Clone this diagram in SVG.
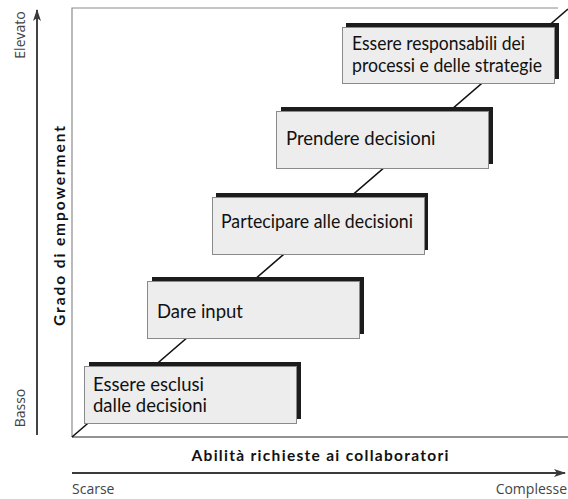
<svg xmlns="http://www.w3.org/2000/svg" width="568" height="499" viewBox="0 0 568 499">
  <defs>
    <style>
      .frame { fill: none; stroke: #8c8c8c; stroke-width: 1.2; }
      .base { fill: none; stroke: #6e6e6e; stroke-width: 1.4; }
      .diag { fill: none; stroke: #111; stroke-width: 1.6; }
      .axis { fill: none; stroke: #3a3a3a; stroke-width: 1.9; }
      .shadow { fill: #1c1c1c; }
      .box { fill: #ededed; stroke: #8a8a8a; stroke-width: 1; }
      .lbl { font-family: Lato, "Open Sans", sans-serif; font-size: 18.5px; fill: #111; }
      .title { font-family: Lato, "Open Sans", sans-serif; font-size: 15.5px; font-weight: bold; fill: #111; }
      .tick { font-family: "Open Sans", Lato, sans-serif; font-size: 14px; fill: #444; }
    </style>
    <marker id="arrow" viewBox="0 0 12 8" refX="11" refY="4" markerWidth="12" markerHeight="8" markerUnits="userSpaceOnUse" orient="auto">
      <path d="M0,0 L12,4 L0,8 L3,4 Z" fill="#3a3a3a"/>
    </marker>
  </defs>

  <rect width="568" height="499" fill="#ffffff"/>

  <!-- chart frame -->
  <g id="frame">
    <path class="frame" d="M72,437 V8 H558"/>
    <path class="base" d="M72,437 H568"/>
  </g>

  <!-- axes -->
  <g id="axes">
    <line class="axis" x1="37" y1="435" x2="37" y2="10" marker-end="url(#arrow)"/>
    <line class="axis" x1="72" y1="473" x2="565" y2="473" marker-end="url(#arrow)"/>
    <text class="tick" transform="translate(25,35) rotate(-90)" text-anchor="middle">Elevato</text>
    <text class="tick" transform="translate(25,408) rotate(-90)" text-anchor="middle">Basso</text>
    <text class="tick" x="72" y="494">Scarse</text>
    <text class="tick" x="567" y="494" text-anchor="end">Complesse</text>
    <text class="title" transform="translate(65,226) rotate(-90)" text-anchor="middle" textLength="200" lengthAdjust="spacing">Grado di empowerment</text>
    <text class="title" x="320" y="461" text-anchor="middle" textLength="257" lengthAdjust="spacing">Abilità richieste ai collaboratori</text>
  </g>

  <!-- connectors -->
  <g id="connectors">
    <line class="diag" x1="72" y1="437" x2="568" y2="9"/>
  </g>

  <!-- steps -->
  <g id="step1">
    <rect class="shadow" x="89" y="362" width="212" height="57"/>
    <rect class="box" x="84.5" y="366.5" width="212" height="57"/>
    <text class="lbl" x="93" y="391">Essere esclusi</text>
    <text class="lbl" x="93" y="412">dalle decisioni</text>
  </g>
  <g id="step2">
    <rect class="shadow" x="152" y="277" width="212" height="57"/>
    <rect class="box" x="147.5" y="281.5" width="212" height="57"/>
    <text class="lbl" x="157" y="318">Dare input</text>
  </g>
  <g id="step3">
    <rect class="shadow" x="216" y="193" width="212" height="57"/>
    <rect class="box" x="212.5" y="197.5" width="212" height="57"/>
    <text class="lbl" x="221" y="228" textLength="192" lengthAdjust="spacingAndGlyphs">Partecipare alle decisioni</text>
  </g>
  <g id="step4">
    <rect class="shadow" x="281" y="107" width="212" height="57"/>
    <rect class="box" x="276.5" y="111.5" width="212" height="57"/>
    <text class="lbl" x="286" y="145">Prendere decisioni</text>
  </g>
  <g id="step5">
    <rect class="shadow" x="346" y="23" width="213" height="56"/>
    <rect class="box" x="342.5" y="27.5" width="212" height="56"/>
    <text class="lbl" x="352" y="50" textLength="173" lengthAdjust="spacingAndGlyphs">Essere responsabili dei</text>
    <text class="lbl" x="352" y="72" textLength="190" lengthAdjust="spacingAndGlyphs">processi e delle strategie</text>
  </g>
</svg>
